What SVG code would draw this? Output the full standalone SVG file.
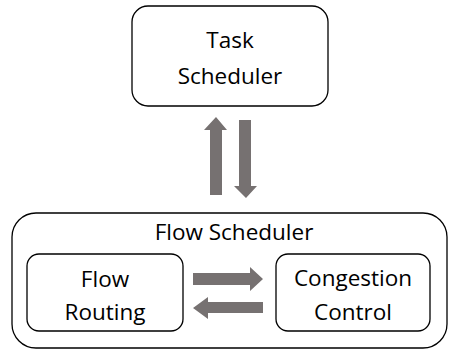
<svg xmlns="http://www.w3.org/2000/svg" width="449" height="350" viewBox="0 0 449 350">
<style>
.box{fill:#fff;stroke:#000;stroke-width:1.3}
.t{font-family:"Open Sans","Liberation Sans",sans-serif;font-size:22.5px;fill:#000;text-anchor:middle}
.arr{fill:#767171;stroke:none}
</style>
<rect width="449" height="350" fill="#fff"/>
<g id="task-scheduler">
<rect class="box" x="132" y="6" width="196" height="100" rx="16"/>
<text class="t" x="230" y="48">Task</text>
<text class="t" x="230" y="84">Scheduler</text>
</g>
<g id="flow-scheduler">
<rect class="box" x="12" y="213" width="435" height="135" rx="24"/>
<text class="t" x="234" y="240">Flow Scheduler</text>
</g>
<g id="flow-routing">
<rect class="box" x="27" y="254" width="156" height="77" rx="12"/>
<text class="t" x="105" y="287">Flow</text>
<text class="t" x="105" y="320">Routing</text>
</g>
<g id="congestion-control">
<rect class="box" x="276" y="254" width="154" height="77" rx="12"/>
<text class="t" x="353" y="286">Congestion</text>
<text class="t" x="353" y="320">Control</text>
</g>
<g id="connectors">
<polygon class="arr" points="210,195 222,195 222,130 227,130 216,117 204,130 210,130"/>
<polygon class="arr" points="239,120 251,120 251,186 257,186 246,198 234,186 239,186"/>
<polygon class="arr" points="193,273 250,273 250,267 263,279 250,291 250,285 193,285"/>
<polygon class="arr" points="263,302 208,302 208,297 193,308 208,319 208,313 263,313"/>
</g>
</svg>
